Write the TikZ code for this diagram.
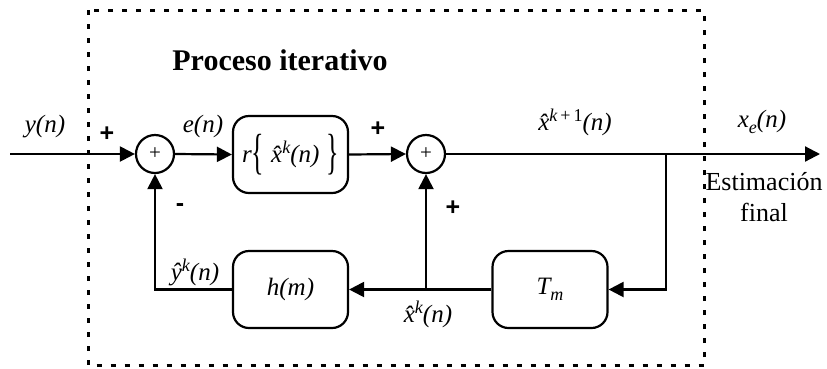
\documentclass[tikz,border=0pt]{standalone}
\usepackage{fontspec}
\setmainfont{Liberation Serif}
\newfontfamily\signfont{Liberation Sans}
\usetikzlibrary{arrows.meta}
\newcommand{\xhat}{\^{x}}
\newcommand{\yhat}{\^{y}}
\newcommand{\sps}[1]{\raisebox{9pt}{\fontsize{18}{18}\selectfont #1}}
\newcommand{\sbs}[1]{\raisebox{-6pt}{\fontsize{18}{18}\selectfont #1}}
\newcommand{\tallbr}[1]{\raisebox{-5.5pt}{\scalebox{1}[1.9]{\fontsize{26}{26}\selectfont\upshape #1}}}
\begin{document}
\begin{tikzpicture}[x=1pt,y=-1pt,
  blk/.style={draw, line width=2.2pt, rounded corners=16pt, minimum width=115pt, minimum height=77pt, inner sep=0pt, font=\fontsize{25}{28}\selectfont\itshape},
  sumc/.style={draw, circle, line width=2.2pt, minimum size=38pt, inner sep=0pt},
  plusin/.style={font=\fontsize{21}{21}\selectfont, inner sep=0pt},
  conn/.style={line width=2.2pt},
  arr/.style={conn, -{Triangle[length=15pt,width=15pt]}},
  lbl/.style={font=\fontsize{25}{28}\selectfont\itshape, inner sep=0pt},
  sign/.style={font=\fontsize{25}{28}\selectfont\signfont\bfseries, inner sep=0pt},
  frame/.style={line width=3pt, dash pattern=on 5pt off 9pt}
]
\useasboundingbox (0,0) rectangle (827,368);
\draw[frame] (88,10) rectangle (704,365.5);

\node[sumc] (s1) at (155,154) {};
\node[plusin] (p1) at (s1) {+};
\node[blk] (r) at (290.5,154.5) {r\tallbr{\{}\hspace{7pt}\xhat\sps{k}(n)\hspace{7pt}\tallbr{\}}};
\node[sumc] (s2) at (426,154) {};
\node[plusin] (p2) at (s2) {+};
\node[blk] (h) at (290.5,289.5) {h(m)};
\node[blk] (T) at (550,289.5) {T\sbs{m}};

\coordinate (in) at (10,154);
\coordinate (out) at (820,154);
\coordinate (br) at (666,154);
\coordinate (brd) at (666,289.5);
\coordinate (xk) at (426,289.5);
\coordinate (fb) at (155,289.5);

\draw[arr] (in) -- (s1.west);
\draw[arr] (s1.east) -- (r.west);
\draw[arr] (r.east) -- (s2.west);
\draw[arr] (s2.east) -- (out);
\draw[arr] (br) -- (brd) -- (T.east);
\draw[arr] (T.west) -- (h.east);
\draw[arr] (xk) -- (s2.south);
\draw[arr] (h.west) -- (fb) -- (s1.south);

\node[lbl] (ly) at (45,127) {y(n)};
\node[sign] (sp1) at (107,134) {+};
\node[lbl] (le) at (203,126) {e(n)};
\node[sign] (sm1) at (180,208) {-};
\node[sign] (sp2) at (378,129) {+};
\node[sign] (sp3) at (453,208) {+};
\node[lbl] (lx1) at (575,122) {\xhat\sps{\textit{k}\,\textup{+}\,\textup{1}}(n)};
\node[lbl] (lxe) at (762,122) {x\sbs{e}(n)};
\node[font=\fontsize{26}{31}\selectfont, align=center, inner sep=0pt] (lest) at (764,197) {Estimación\\final};
\node[lbl] (lyk) at (195,272) {\yhat\sps{k}(n)};
\node[lbl] (lxk) at (428,314) {\xhat\sps{k}(n)};
\node[font=\fontsize{30}{34}\selectfont\bfseries, inner sep=0pt] (title) at (280,60) {Proceso iterativo};
\end{tikzpicture}
\end{document}
